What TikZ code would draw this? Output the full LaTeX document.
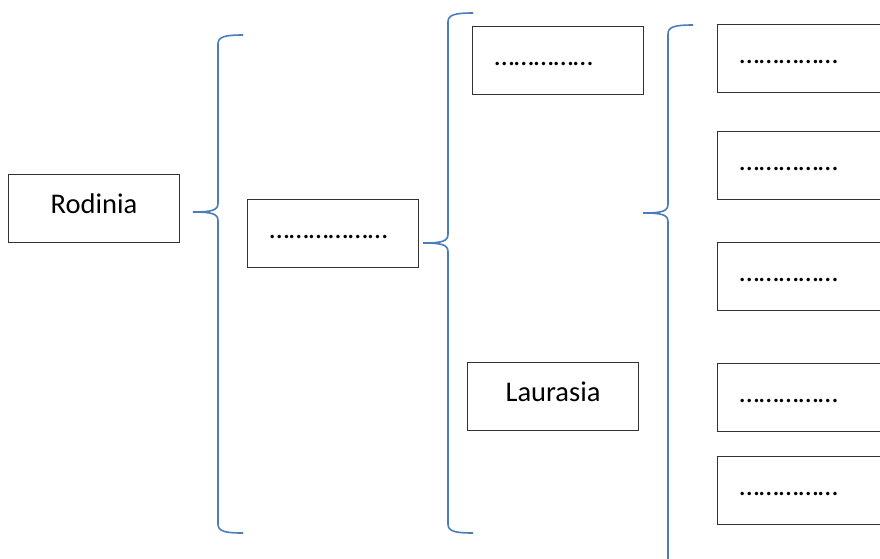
\documentclass[tikz,border=0pt]{standalone}
\usepackage{fontspec}
\setmainfont{Carlito}
\definecolor{bracecol}{RGB}{74,126,187}
% curly bracket: x, top y, tip y, bottom y
\newcommand{\bracket}[4]{%
  \draw[brace] (#1+25,#2) .. controls (#1+6,#2) and (#1,#2+2) .. (#1,#2+9)
    -- (#1,#3-9) .. controls (#1,#3-2) and (#1-5,#3) .. (#1-25,#3)
    .. controls (#1-5,#3) and (#1,#3+2) .. (#1,#3+9)
    -- (#1,#4-9) .. controls (#1,#4-2) and (#1+6,#4) .. (#1+25,#4);}

\begin{document}
\begin{tikzpicture}[x=1pt, y=-1pt,
    box/.style={draw=black!80, line width=1pt, minimum width=171pt,
      minimum height=68pt, text height=20pt, text depth=10pt,
      font=\fontsize{28.5}{34}\selectfont},
    fillbox/.style={box, inner xsep=22pt, text width=127pt, align=left},
    brace/.style={draw=bracecol, line width=1.6pt}]
	\useasboundingbox (0,0) rectangle (880,558);
	%%%%%%%%%%%%%%%%%%%%%%%%%%%%%%%%
	\node[box, anchor=north west] (rodinia) at (8,174) {Rodinia};
	\node[fillbox, anchor=north west] (blank) at (247,199) {………………};
	\node[fillbox, anchor=north west] (gondwana) at (472,26) {……………};
	\node[box, anchor=north west] (laurasia) at (467,362) {Laurasia};
	\foreach \y/\n in {24/part1, 131/part2, 242/part3, 363/part4, 456/part5}
		\node[fillbox, anchor=north west] (\n) at (717,\y) {……………};
	%%%%%%%%%%%%%%%%%%%%%%%%%%%%%%%%
	\bracket{218}{35}{212}{533}
	\bracket{448}{13}{243}{533}
	\bracket{668}{25}{213}{580}
\end{tikzpicture}
\end{document}
